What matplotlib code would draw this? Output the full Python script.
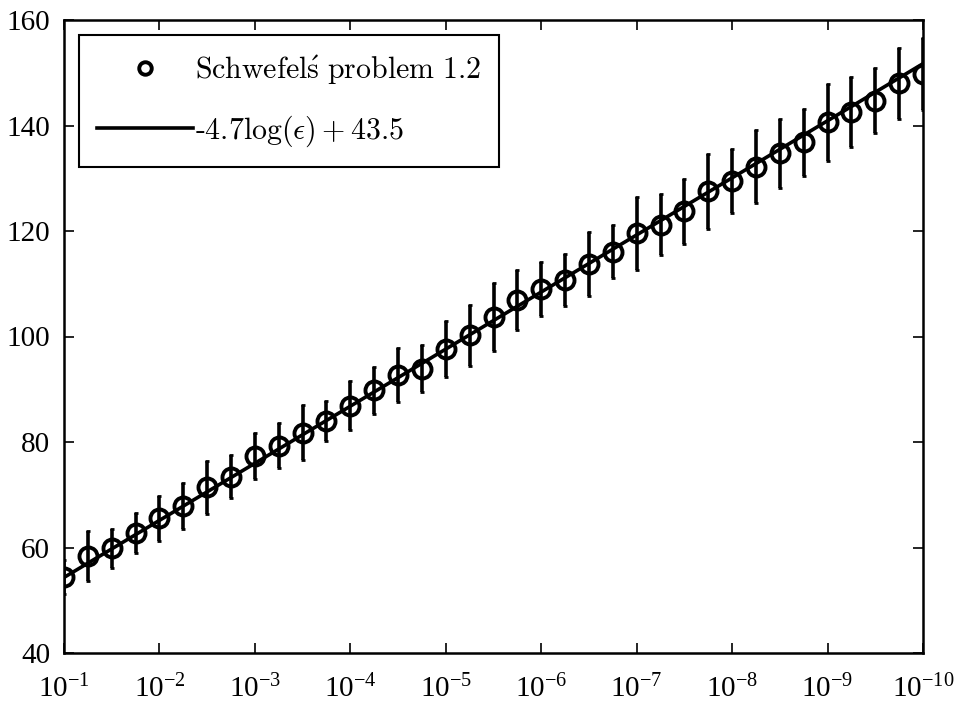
import numpy as np
import matplotlib
matplotlib.use("Agg")
import matplotlib.pyplot as plt

# 許容誤差 epsilon (10^-1 〜 10^-10, 1桁あたり4点)
eps_exp = np.linspace(-1, -10, 37)
eps = 10.0 ** eps_exp

# 平均値
mean_vals = [54.4, 58.4, 59.9, 62.8, 65.5, 67.9, 71.4, 73.4, 77.3, 79.3,
             81.8, 83.9, 86.9, 89.8, 92.7, 93.9, 97.7, 100.2, 103.7, 106.9,
             109.0, 110.7, 113.8, 116.1, 119.6, 121.2, 123.7, 127.5, 129.5, 132.2,
             134.7, 136.8, 140.6, 142.6, 144.7, 148.0, 149.7]
# 標準偏差（エラーバー）
err_vals = [3.3, 4.7, 3.7, 3.8, 4.35, 4.3, 5.0, 4.1, 4.35, 4.3,
            5.2, 3.8, 4.6, 4.5, 5.2, 4.5, 5.3, 5.7, 6.4, 5.7,
            5.1, 5.0, 6.1, 5.1, 6.9, 5.8, 6.2, 7.1, 6.0, 6.9,
            6.6, 6.3, 7.3, 6.6, 6.2, 6.7, 6.8]

# フィット直線の係数
fit_a = -4.7
fit_b = 43.5

y_ticks = [40, 60, 80, 100, 120, 140, 160]

plt.rcParams['font.family'] = ['Liberation Serif', 'DejaVu Serif']
plt.rcParams['mathtext.fontset'] = 'custom'
plt.rcParams['mathtext.rm'] = 'Liberation Serif'
plt.rcParams['mathtext.it'] = 'Liberation Serif:italic'

fig = plt.figure(figsize=(9.6, 7.11), dpi=100)
ax = fig.add_axes([64/960, 1-653/711, (923-64)/960, (653-20)/711])

fit_x = np.logspace(-1, -10, 200)
ax.plot(fit_x, fit_a*np.log(fit_x) + fit_b, color='black', lw=2.6, zorder=2)
ax.errorbar(eps, mean_vals, yerr=err_vals, fmt='none', ecolor='black',
            elinewidth=2.6, capsize=1.2, capthick=2, zorder=3)
ax.plot(eps, mean_vals, 'o', ms=13, mfc='none', mec='black', mew=2.8, zorder=4)

# 凡例用
h1, = ax.plot([], [], 'o', ms=9, mfc='none', mec='black', mew=2.8)
h2, = ax.plot([], [], color='black', lw=2.6)
leg = ax.legend([h1, h2],
                [r'$\mathrm{Schwefel\acute{s}\ problem\ 1.2}$',
                 r'$\text{-4.7log}(\epsilon) + 43.5$'],
                loc='upper left', bbox_to_anchor=(0.0175, 0.976),
                fontsize=21.5, handlelength=3.2, handletextpad=0.1,
                labelspacing=0.9, borderpad=0.6, borderaxespad=0,
                fancybox=False, edgecolor='black', framealpha=1)
leg.get_frame().set_linewidth(1.5)
for t in leg.get_texts():
    t.set_math_fontfamily('cm')

ax.set_xscale('log')
ax.set_xlim(1e-1, 1e-10)
ax.set_ylim(40, 160)
ax.set_yticks(y_ticks)
ax.set_xticks([10.0**(-k) for k in range(1, 11)])
ax.tick_params(which='both', direction='in', top=True, right=True, labelsize=21)
ax.tick_params(which='major', length=7, width=1.2)
ax.tick_params(which='minor', length=4, width=1)
ax.tick_params(axis='y', pad=10)
ax.tick_params(axis='x', pad=16)
for s in ax.spines.values():
    s.set_linewidth(1.8)

fig.savefig('out.png', dpi=100)
